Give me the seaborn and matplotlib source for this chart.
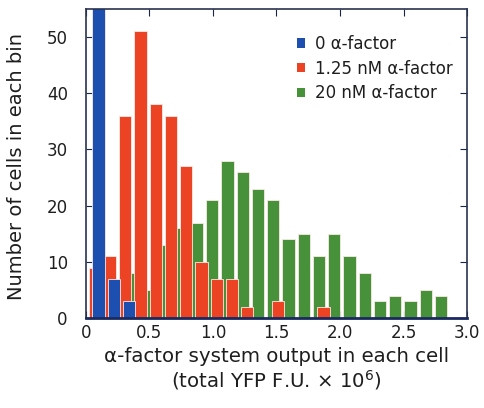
import numpy as np
import pandas as pd
import matplotlib
matplotlib.use("Agg")
import matplotlib.pyplot as plt
from matplotlib.patches import Patch
import seaborn as sns

# Donnees (nombre de cellules par classe de 0.12)
bin_width = 0.12
n_bins = 25
counts_0nM = [120, 7, 3] + [0] * 22
counts_125nM = [9, 11, 36, 51, 38, 36, 27, 10, 7, 7, 2, 0, 3, 0, 0, 2] + [0] * 9
counts_20nM = [0, 0, 0, 8, 5, 13, 16, 17, 21, 28, 26, 23, 21, 14, 15, 11, 15, 11, 8, 3, 4, 3, 5, 4, 0]

labels = ["0 \u03b1-factor", "1.25 nM \u03b1-factor", "20 nM \u03b1-factor"]
colors = ["#1c4fb0", "#ec4324", "#46913a"]

sns.set_style("ticks")
plt.rcParams["font.family"] = ["DejaVu Sans"]
plt.rcParams["text.color"] = "#1e1e1e"
plt.rcParams["axes.labelcolor"] = "#1e1e1e"
plt.rcParams["xtick.labelcolor"] = "#1e1e1e"
plt.rcParams["ytick.labelcolor"] = "#1e1e1e"

fig, ax = plt.subplots(figsize=(4.85, 4.08), dpi=100)
fig.subplots_adjust(left=0.177, right=0.963, bottom=0.22, top=0.979)

edges = np.arange(n_bins + 1) * bin_width
centers = edges[:-1] + bin_width / 2

# les trois histogrammes sont legerement decales les uns des autres
series = [
    (counts_20nM, colors[2], -0.025),
    (counts_125nM, colors[1], 0.01),
    (counts_0nM, colors[0], 0.04),
]
for counts, col, shift in series:
    df = pd.DataFrame({"x": centers + shift, "n": counts})
    sns.histplot(data=df, x="x", weights="n", bins=list(edges + shift),
                 color=col, alpha=1, shrink=0.8, edgecolor="#fbe9e4",
                 linewidth=0.6, ax=ax)

ax.set_xlim(0, 3.0)
ax.set_ylim(0, 55)
ax.set_xticks([0, 0.5, 1.0, 1.5, 2.0, 2.5, 3.0])
ax.set_xticklabels(["0", "0.5", "1.0", "1.5", "2.0", "2.5", "3.0"])
ax.set_yticks([0, 10, 20, 30, 40, 50])
ax.tick_params(direction="in", top=True, right=True, labelsize=12,
               length=5, color="#1a2540", pad=4)
ax.tick_params(axis="y", pad=13)
for sp in ax.spines.values():
    sp.set_visible(True)
    sp.set_color("#2a3350")
    sp.set_linewidth(1.2)
ax.spines["bottom"].set_color("#1a2a60")
ax.spines["bottom"].set_linewidth(2)

ax.set_xlabel("\u03b1-factor system output in each cell\n(total YFP F.U. \u00d7 10$^{6}$)",
              fontsize=14.2, linespacing=1.1)
ax.set_ylabel("Number of cells in each bin", fontsize=14)
ax.yaxis.set_label_coords(-0.158, 0.49)

handles = [Patch(facecolor=c, edgecolor="none") for c in colors]
ax.legend(handles, labels, loc="upper left", bbox_to_anchor=(0.554, 0.915),
          borderaxespad=0, borderpad=0, frameon=False, fontsize=12,
          handlelength=0.5, handleheight=0.5, handletextpad=0.6,
          labelspacing=0.4)

fig.savefig("out.png", dpi=100)
